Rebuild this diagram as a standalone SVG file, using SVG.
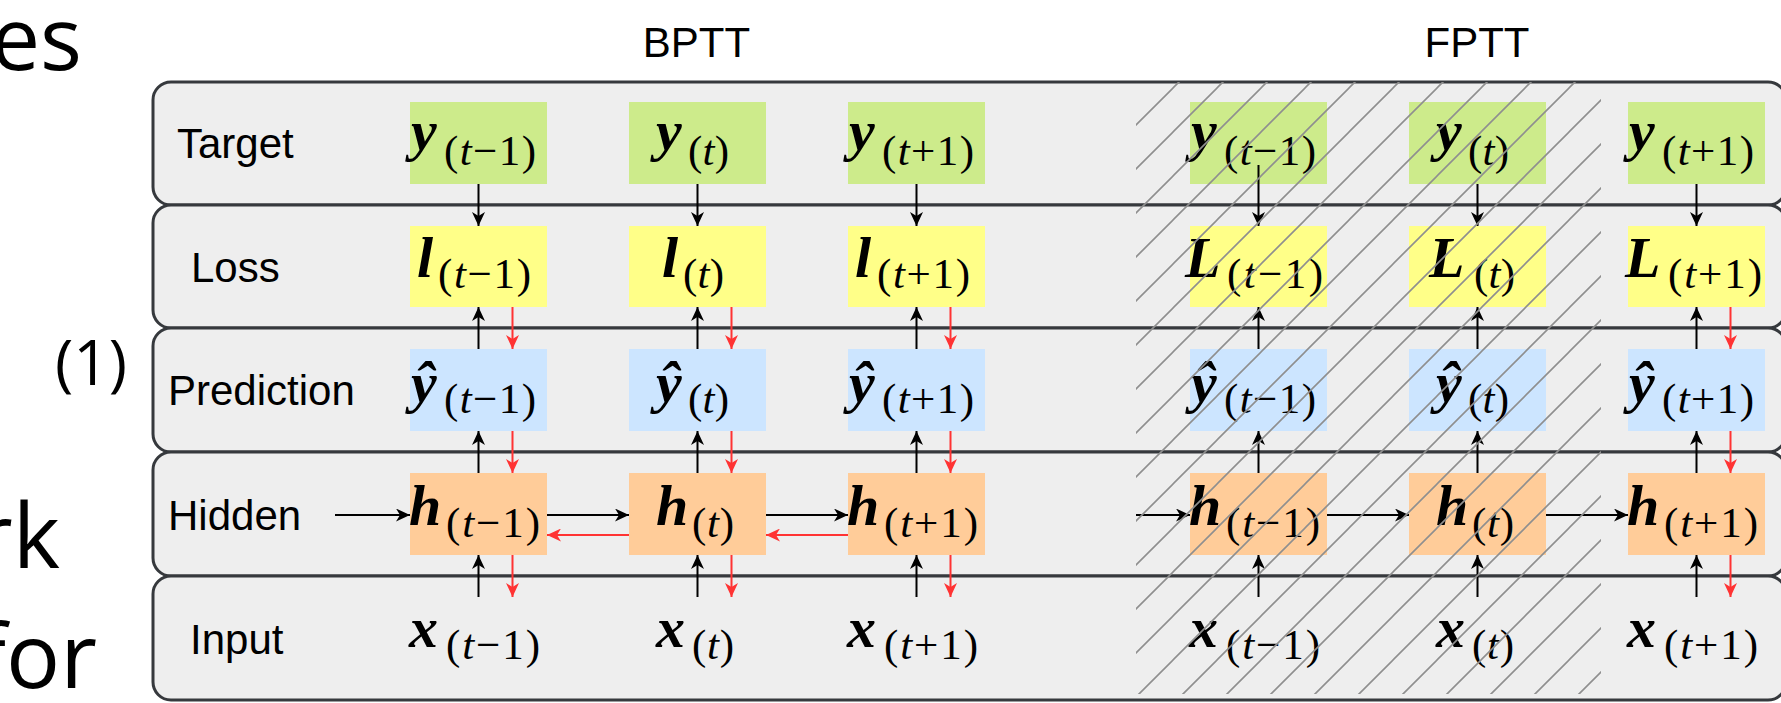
<svg xmlns="http://www.w3.org/2000/svg" width="1781" height="703" viewBox="0 0 1781 703">
<style>
.row{fill:#eeeeee;stroke:#36393d;stroke-width:3}
.lbl{font-family:"Liberation Sans",Arial,sans-serif;font-size:42px;fill:#000}
.slide{font-family:"Open Sans","Liberation Sans",sans-serif;fill:#000}
.mm{font-family:"Liberation Serif","Times New Roman",serif;font-style:italic;font-weight:bold;font-size:58px;fill:#000}
.ms{font-family:"Liberation Serif","Times New Roman",serif;font-size:43px;fill:#000}
.it{font-style:italic}
.g{fill:#cdeb8b}.yl{fill:#ffff88}.b{fill:#cce5ff}.o{fill:#ffcc99}
.k{stroke:#000;stroke-width:2;fill:none;marker-end:url(#ak)}
.r{stroke:#ff3333;stroke-width:2;fill:none;marker-end:url(#ar)}
</style>
<defs>
<marker id="ak" markerUnits="userSpaceOnUse" markerWidth="14" markerHeight="13" refX="14" refY="6.5" orient="auto"><path d="M0,0 L14,6.5 L0,13 L4,6.5 Z" fill="#000"/></marker>
<marker id="ar" markerUnits="userSpaceOnUse" markerWidth="14" markerHeight="13" refX="14" refY="6.5" orient="auto"><path d="M0,0 L14,6.5 L0,13 L4,6.5 Z" fill="#ff3333"/></marker>
<pattern id="hatch" patternUnits="userSpaceOnUse" x="29" y="0" width="44" height="44"><path d="M0,44 L44,0 M-11,11 L11,-11 M33,55 L55,33" stroke="#8f8f8f" stroke-width="1.6" fill="none"/></pattern>
</defs>

<g id="slide-text">
<text class="slide" x="82" y="70" font-size="88" text-anchor="end">es</text>
<text class="slide" x="127" y="385" font-size="62" text-anchor="end">(1)</text>
<text class="slide" x="60" y="568" font-size="90" text-anchor="end">rk</text>
<text class="slide" x="97" y="688" font-size="90" text-anchor="end">for</text>
</g>

<g id="titles">
<text class="lbl" x="696.5" y="57" text-anchor="middle">BPTT</text>
<text class="lbl" x="1477" y="57" text-anchor="middle">FPTT</text>
</g>

<g id="rows">
<g id="row-target"><rect class="row" x="153" y="82" width="1633" height="123" rx="18"/><text class="lbl" x="177" y="158">Target</text></g>
<g id="row-loss"><rect class="row" x="153" y="205" width="1633" height="123" rx="18"/><text class="lbl" x="191" y="282">Loss</text></g>
<g id="row-prediction"><rect class="row" x="153" y="328" width="1633" height="124" rx="18"/><text class="lbl" x="168" y="405">Prediction</text></g>
<g id="row-hidden"><rect class="row" x="153" y="452" width="1633" height="124" rx="18"/><text class="lbl" x="168" y="530">Hidden</text></g>
<g id="row-input"><rect class="row" x="153" y="576" width="1633" height="124" rx="18"/><text class="lbl" x="190" y="654">Input</text></g>
</g>

<!-- BPTT nodes -->
<g id="b-y1"><rect class="g" x="410" y="102" width="137" height="82"/><text class="mm" x="411" y="150">y</text><text class="ms" x="444" y="165" textLength="92">(<tspan class="it">t</tspan>−1)</text></g>
<g id="b-y2"><rect class="g" x="629" y="102" width="137" height="82"/><text class="mm" x="656" y="150">y</text><text class="ms" x="688" y="165" textLength="41">(<tspan class="it">t</tspan>)</text></g>
<g id="b-y3"><rect class="g" x="848" y="102" width="137" height="82"/><text class="mm" x="849" y="150">y</text><text class="ms" x="882" y="165" textLength="92">(<tspan class="it">t</tspan>+1)</text></g>

<g id="b-l1"><rect class="yl" x="410" y="226" width="137" height="81"/><text class="mm" x="417" y="277">l</text><text class="ms" x="438" y="288" textLength="93">(<tspan class="it">t</tspan>−1)</text></g>
<g id="b-l2"><rect class="yl" x="629" y="226" width="137" height="81"/><text class="mm" x="662" y="277">l</text><text class="ms" x="683" y="288" textLength="41">(<tspan class="it">t</tspan>)</text></g>
<g id="b-l3"><rect class="yl" x="848" y="226" width="137" height="81"/><text class="mm" x="855" y="277">l</text><text class="ms" x="877" y="288" textLength="93">(<tspan class="it">t</tspan>+1)</text></g>

<g id="b-p1"><rect class="b" x="410" y="349" width="137" height="82"/><text class="mm" x="411" y="402">ŷ</text><text class="ms" x="444" y="413" textLength="92">(<tspan class="it">t</tspan>−1)</text></g>
<g id="b-p2"><rect class="b" x="629" y="349" width="137" height="82"/><text class="mm" x="656" y="402">ŷ</text><text class="ms" x="688" y="413" textLength="41">(<tspan class="it">t</tspan>)</text></g>
<g id="b-p3"><rect class="b" x="848" y="349" width="137" height="82"/><text class="mm" x="849" y="402">ŷ</text><text class="ms" x="882" y="413" textLength="92">(<tspan class="it">t</tspan>+1)</text></g>

<g id="b-h1"><rect class="o" x="410" y="473" width="137" height="82"/><text class="mm" x="409" y="525">h</text><text class="ms" x="446" y="537" textLength="94">(<tspan class="it">t</tspan>−1)</text></g>
<g id="b-h2"><rect class="o" x="629" y="473" width="137" height="82"/><text class="mm" x="656" y="525">h</text><text class="ms" x="692" y="537" textLength="42">(<tspan class="it">t</tspan>)</text></g>
<g id="b-h3"><rect class="o" x="848" y="473" width="137" height="82"/><text class="mm" x="847" y="525">h</text><text class="ms" x="884" y="537" textLength="94">(<tspan class="it">t</tspan>+1)</text></g>

<g id="b-x1"><text class="mm" x="409" y="647">x</text><text class="ms" x="446" y="659" textLength="94">(<tspan class="it">t</tspan>−1)</text></g>
<g id="b-x2"><text class="mm" x="656" y="647">x</text><text class="ms" x="692" y="659" textLength="42">(<tspan class="it">t</tspan>)</text></g>
<g id="b-x3"><text class="mm" x="847" y="647">x</text><text class="ms" x="884" y="659" textLength="94">(<tspan class="it">t</tspan>+1)</text></g>

<!-- FPTT nodes -->
<g id="f-y1"><rect class="g" x="1190" y="102" width="137" height="82"/><text class="mm" x="1191" y="150">y</text><text class="ms" x="1224" y="165" textLength="92">(<tspan class="it">t</tspan>−1)</text></g>
<g id="f-y2"><rect class="g" x="1409" y="102" width="137" height="82"/><text class="mm" x="1436" y="150">y</text><text class="ms" x="1468" y="165" textLength="41">(<tspan class="it">t</tspan>)</text></g>
<g id="f-y3"><rect class="g" x="1628" y="102" width="137" height="82"/><text class="mm" x="1629" y="150">y</text><text class="ms" x="1662" y="165" textLength="92">(<tspan class="it">t</tspan>+1)</text></g>

<g id="f-l1"><rect class="yl" x="1190" y="226" width="137" height="81"/><text class="mm" x="1185" y="277">L</text><text class="ms" x="1227" y="288" textLength="96">(<tspan class="it">t</tspan>−1)</text></g>
<g id="f-l2"><rect class="yl" x="1409" y="226" width="137" height="81"/><text class="mm" x="1429" y="277">L</text><text class="ms" x="1474" y="288" textLength="41">(<tspan class="it">t</tspan>)</text></g>
<g id="f-l3"><rect class="yl" x="1628" y="226" width="137" height="81"/><text class="mm" x="1625" y="277">L</text><text class="ms" x="1668" y="288" textLength="94">(<tspan class="it">t</tspan>+1)</text></g>

<g id="f-p1"><rect class="b" x="1190" y="349" width="137" height="82"/><text class="mm" x="1191" y="402">ŷ</text><text class="ms" x="1224" y="413" textLength="92">(<tspan class="it">t</tspan>−1)</text></g>
<g id="f-p2"><rect class="b" x="1409" y="349" width="137" height="82"/><text class="mm" x="1436" y="402">ŷ</text><text class="ms" x="1468" y="413" textLength="41">(<tspan class="it">t</tspan>)</text></g>
<g id="f-p3"><rect class="b" x="1628" y="349" width="137" height="82"/><text class="mm" x="1629" y="402">ŷ</text><text class="ms" x="1662" y="413" textLength="92">(<tspan class="it">t</tspan>+1)</text></g>

<g id="f-h1"><rect class="o" x="1190" y="473" width="137" height="82"/><text class="mm" x="1189" y="525">h</text><text class="ms" x="1226" y="537" textLength="94">(<tspan class="it">t</tspan>−1)</text></g>
<g id="f-h2"><rect class="o" x="1409" y="473" width="137" height="82"/><text class="mm" x="1436" y="525">h</text><text class="ms" x="1472" y="537" textLength="42">(<tspan class="it">t</tspan>)</text></g>
<g id="f-h3"><rect class="o" x="1628" y="473" width="137" height="82"/><text class="mm" x="1627" y="525">h</text><text class="ms" x="1664" y="537" textLength="94">(<tspan class="it">t</tspan>+1)</text></g>

<g id="f-x1"><text class="mm" x="1189" y="647">x</text><text class="ms" x="1226" y="659" textLength="94">(<tspan class="it">t</tspan>−1)</text></g>
<g id="f-x2"><text class="mm" x="1436" y="647">x</text><text class="ms" x="1472" y="659" textLength="42">(<tspan class="it">t</tspan>)</text></g>
<g id="f-x3"><text class="mm" x="1627" y="647">x</text><text class="ms" x="1664" y="659" textLength="94">(<tspan class="it">t</tspan>+1)</text></g>

<g id="connectors">
<path class="k" d="M478.5,184 V226"/><path class="k" d="M697.5,184 V226"/><path class="k" d="M916.5,184 V226"/>
<path class="k" d="M478.5,349 V307"/><path class="k" d="M697.5,349 V307"/><path class="k" d="M916.5,349 V307"/>
<path class="r" d="M512.5,307 V349"/><path class="r" d="M731.5,307 V349"/><path class="r" d="M950.5,307 V349"/>
<path class="k" d="M478.5,473 V431"/><path class="k" d="M697.5,473 V431"/><path class="k" d="M916.5,473 V431"/>
<path class="r" d="M512.5,431 V473"/><path class="r" d="M731.5,431 V473"/><path class="r" d="M950.5,431 V473"/>
<path class="k" d="M478.5,597 V555"/><path class="k" d="M697.5,597 V555"/><path class="k" d="M916.5,597 V555"/>
<path class="r" d="M512.5,555 V597"/><path class="r" d="M731.5,555 V597"/><path class="r" d="M950.5,555 V597"/>
<path class="k" d="M335,515 H410"/><path class="k" d="M547,515 H629"/><path class="k" d="M766,515 H848"/>
<path class="r" d="M848,535 H766"/><path class="r" d="M629,535 H547"/>
<path class="k" d="M1258.5,165 V226"/><path class="k" d="M1477.5,184 V226"/><path class="k" d="M1696.5,184 V226"/>
<path class="k" d="M1258.5,349 V307"/><path class="k" d="M1477.5,349 V307"/><path class="k" d="M1696.5,349 V307"/>
<path class="r" d="M1730.5,307 V349"/>
<path class="k" d="M1258.5,473 V431"/><path class="k" d="M1477.5,473 V431"/><path class="k" d="M1696.5,473 V431"/>
<path class="r" d="M1730.5,431 V473"/>
<path class="k" d="M1258.5,597 V555"/><path class="k" d="M1477.5,597 V555"/><path class="k" d="M1696.5,597 V555"/>
<path class="r" d="M1730.5,555 V597"/>
<path class="k" d="M1136,515 H1190"/><path class="k" d="M1327,515 H1409"/><path class="k" d="M1546,515 H1628"/>
</g>

<g id="hatch-area">
<rect x="1136" y="82" width="465" height="612" fill="url(#hatch)"/>
</g>
</svg>
